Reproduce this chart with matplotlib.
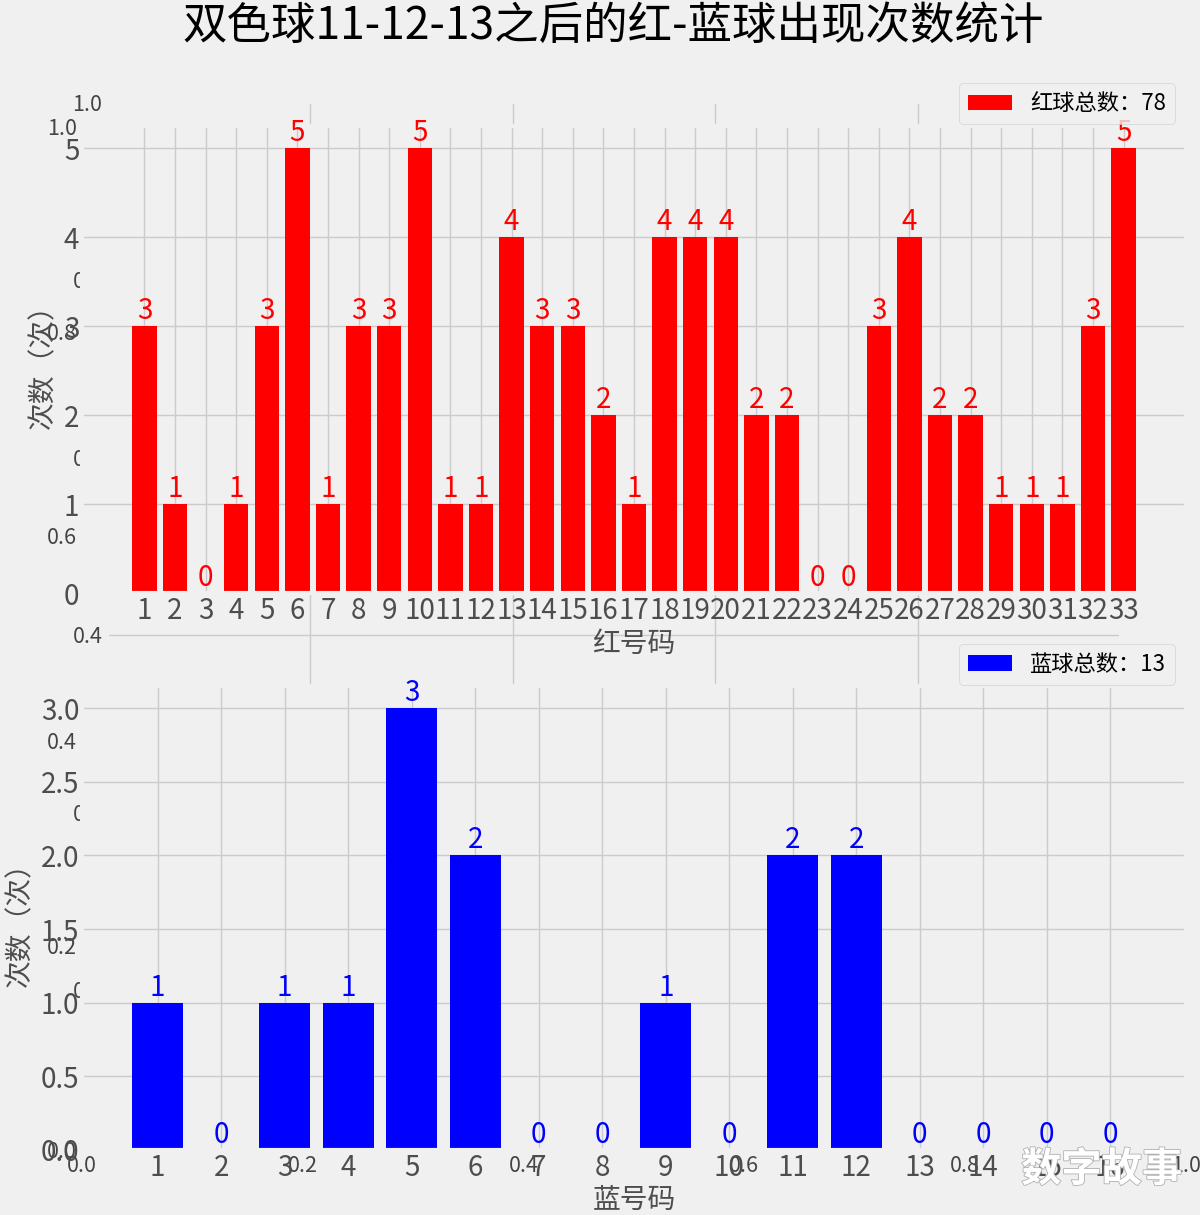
import matplotlib.pyplot as plt
import numpy as np
from matplotlib import patheffects

# data
red_nums = list(range(1, 34))
red_counts = [3, 1, 0, 1, 3, 5, 1, 3, 3, 5, 1, 1, 4, 3, 3, 2, 1,
              4, 4, 4, 2, 2, 0, 0, 3, 4, 2, 2, 1, 1, 1, 3, 5]
blue_nums = list(range(1, 17))
blue_counts = [1, 0, 1, 1, 3, 2, 0, 0, 1, 0, 2, 2, 0, 0, 0, 0]
bg_ticks = [0.0, 0.2, 0.4, 0.6, 0.8, 1.0]

title = '双色球11-12-13之后的红-蓝球出现次数统计'
red_label = '红球总数：%d' % sum(red_counts)
blue_label = '蓝球总数：%d' % sum(blue_counts)

plt.style.use('fivethirtyeight')
plt.rcParams['font.family'] = ['Noto Sans CJK SC', 'DejaVu Sans']
plt.rcParams['axes.unicode_minus'] = False

fig = plt.figure(figsize=(12, 12.15), dpi=100)

# two empty leftover axes sitting behind the charts
bg1 = fig.add_axes([0.0683, 0.0535, 0.92, 0.8425])
bg2 = fig.add_axes([0.0894, 0.1852, 0.8444, 0.7308])
for bg in (bg1, bg2):
    bg.set_xlim(0, 1)
    bg.set_ylim(0, 1)
    bg.set_xticks(bg_ticks)
    bg.set_yticks(bg_ticks)
    bg.tick_params(labelsize=15.5, labelcolor='#444444')

ax1 = fig.add_axes([0.0683, 0.5119, 0.92, 0.3844])
ax2 = fig.add_axes([0.0683, 0.0535, 0.92, 0.3819])

ax1.bar(red_nums, red_counts, color='red', label=red_label)
for n, c in zip(red_nums, red_counts):
    ax1.text(n, c, str(c), ha='center', va='bottom', color='red', fontsize=20)
ax1.set_xticks(red_nums)
ax1.set_yticks(range(0, 6))
ax1.set_xlabel('红号码', fontsize=20, color='#4d4d4d', labelpad=2)
ax1.set_ylabel('次数（次）', fontsize=20, color='#4d4d4d')
ax1.tick_params(labelsize=20, labelcolor='#4d4d4d', pad=2)
ax1.legend(loc='upper right', bbox_to_anchor=(1, 1.115), fontsize=16)

ax2.bar(blue_nums, blue_counts, color='blue', label=blue_label)
for n, c in zip(blue_nums, blue_counts):
    ax2.text(n, c, str(c), ha='center', va='bottom', color='blue', fontsize=20)
ax2.set_xticks(blue_nums)
ax2.set_yticks(np.arange(0, 3.5, 0.5))
ax2.set_yticklabels(['%.1f' % v for v in np.arange(0, 3.5, 0.5)])
ax2.set_xlabel('蓝号码', fontsize=20, color='#4d4d4d', labelpad=2)
ax2.set_ylabel('次数（次）', fontsize=20, color='#4d4d4d')
ax2.tick_params(labelsize=20, labelcolor='#4d4d4d', pad=2)
ax2.legend(loc='upper right', bbox_to_anchor=(1, 1.115), fontsize=16)

fig.suptitle(title, fontsize=32, x=0.511, y=0.979, va='center')

# watermark
fig.text(0.918, 0.037, '数字故事', color='white', fontsize=29, fontweight='bold',
         ha='center', va='center',
         path_effects=[patheffects.withStroke(linewidth=1.2, foreground='#b0b0b0')])

fig.savefig('out.png', dpi=100, facecolor=fig.get_facecolor())
